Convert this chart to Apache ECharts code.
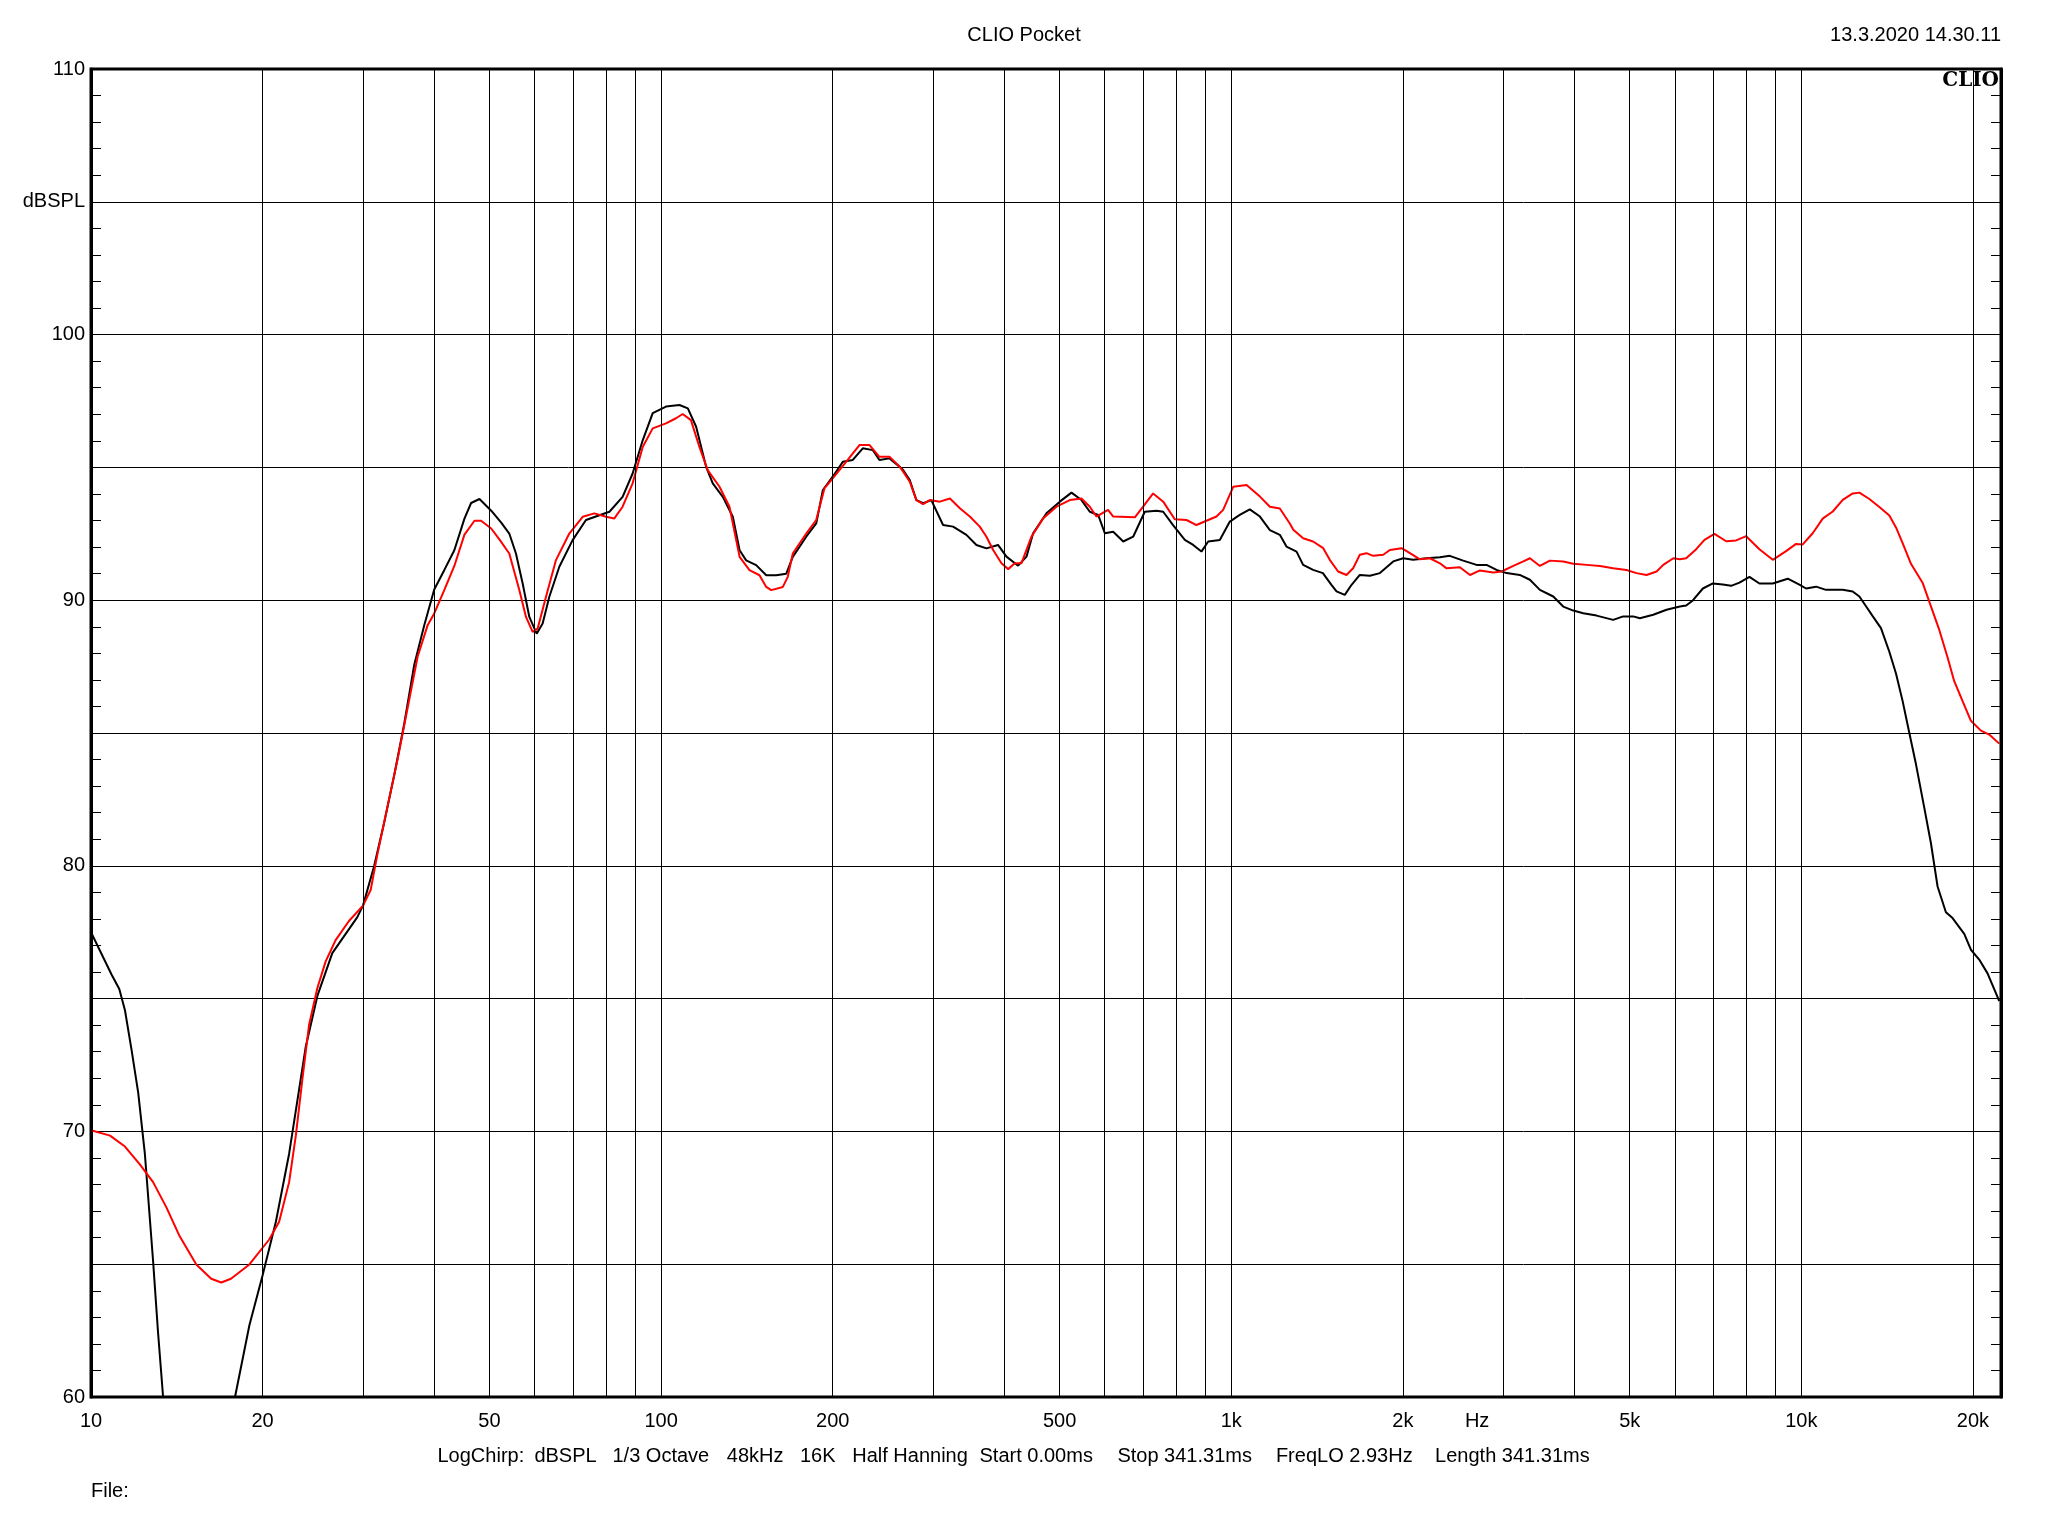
<!DOCTYPE html>
<html>
<head>
<meta charset="utf-8">
<script src="https://cdn.jsdelivr.net/npm/echarts@6/dist/echarts.min.js"></script>
<style>
html,body{margin:0;padding:0;background:#fff;}
#chart{width:2048px;height:1536px;}
</style>
</head>
<body>
<div id="chart"></div>
<script>
// ---------- DATA ----------
const blackFreq = [10,10.87,11.21,11.47,11.78,12.1,12.43,12.85,13.11,13.38,13.55,15.5,17.7,17.89,18.96,20,21.1,22.26,23.81,24.95,26.5,29.3,30,31.38,32.66,34.02,35.43,36.9,38.42,40,41.67,43.38,45.19,46.42,48.02,50.35,52.43,54.16,55.64,57.17,58.73,60.5,61.97,63.67,66.29,69.95,73.82,77.95,81.16,85.6,89.13,92.87,96.67,102,107.7,111.4,115.2,119.9,123.2,128.3,133.6,137.3,141,146.8,152.9,159.2,165.8,170.2,179.7,187.1,192.2,200,208.3,216.9,225.8,235.2,241.5,251.5,262,265.8,273,280.4,288.1,297.8,312.3,325.2,343.2,357.3,372.1,389.9,403.4,422.9,437.4,449.3,474.2,500.4,524.6,546.2,564.9,584.3,600.2,620.9,646.5,673,705.3,739.6,759.8,790.7,829.1,857.6,886.7,911.1,955,994.5,1035,1078,1123,1169,1217,1250,1302,1337,1392,1448,1499,1530,1582,1626,1681,1751,1823,1924,2003,2085,2200,2323,2418,2552,2694,2805,2920,3041,3208,3341,3479,3672,3823,3981,4145,4374,4677,4870,5071,5209,5498,5802,6124,6281,6452,6719,6995,7283,7532,7790,8110,8443,8910,9467,9922,10193,10612,11048,11820,12308,12643,12986,13340,13795,14268,14657,15056,15466,15887,16430,16880,17338,17931,18419,19309,19836,20514,21215,21794,22240];
const blackDb = [77.5,75.9,75.36,74.56,73.07,71.46,69.16,65.12,62.43,60.0,58.6,null,59.3,60,62.7,64.58,66.6,69.16,73.2,75.1,76.71,78.06,78.5,79.99,81.6,83.4,85.34,87.57,89.06,90.4,91.14,91.88,93.07,93.66,93.81,93.37,92.92,92.51,91.76,90.63,89.37,88.74,89.12,90.13,91.26,92.26,93.02,93.2,93.33,93.89,94.77,96.03,97.04,97.29,97.35,97.22,96.53,95.03,94.4,93.89,93.14,91.88,91.5,91.32,90.94,90.94,91.0,91.63,92.39,92.89,94.15,94.65,95.21,95.28,95.72,95.65,95.28,95.34,95.03,94.9,94.52,93.77,93.65,93.77,92.83,92.77,92.46,92.08,91.95,92.08,91.64,91.3,91.64,92.52,93.27,93.71,94.05,93.77,93.33,93.21,92.52,92.58,92.21,92.39,93.33,93.37,93.33,92.83,92.27,92.08,91.83,92.21,92.27,92.96,93.21,93.42,93.15,92.64,92.46,92.02,91.83,91.33,91.14,91.02,90.58,90.33,90.2,90.58,90.95,90.92,91.02,91.46,91.58,91.52,91.58,91.62,91.67,91.49,91.33,91.33,91.14,91.02,90.95,90.77,90.39,90.14,89.76,89.61,89.51,89.42,89.26,89.39,89.39,89.32,89.45,89.64,89.76,89.8,89.99,90.44,90.63,90.59,90.54,90.66,90.88,90.63,90.63,90.81,90.59,90.44,90.51,90.39,90.39,90.33,90.14,89.77,89.4,88.95,88.06,87.24,86.2,85.01,83.83,82.19,80.85,79.22,78.25,78.03,77.44,76.84,76.47,75.95,75.36,74.91];

const redFreq = [10,10.8,11.47,12.18,12.85,13.56,14.3,15.3,16.25,16.92,17.6,18.96,20.54,21.38,22.26,22.87,23.49,24.13,24.95,25.8,26.86,28.34,30,30.95,31.8,33.11,34.49,35.92,37.4,38.95,40,41.67,43.38,45.19,47.06,48.33,50.35,52.0,54.16,56.4,57.94,59.52,60.74,62.82,65.4,69.02,72.85,76.37,80.06,82.79,85.6,89.13,92.87,96.67,102,106.2,109.1,112.8,116.7,120.7,126.6,131.8,137.3,142.9,148.8,152.9,156,163.5,166.8,170.2,179.7,187.1,193.4,200,211.1,222.8,232.1,241.5,251.5,262,265.8,273,280.4,288.1,296,308.2,321.1,334.2,347.9,362.2,372.1,382.3,395.4,406.2,417.3,428.5,446.3,467.7,493.7,521.2,546.2,564.9,580.2,608.1,620.9,677.6,700.6,729.5,759.8,796.2,834.9,869,904.9,942.3,968,1008,1064,1123,1169,1217,1267,1285,1337,1392,1450,1489,1540,1593,1636,1681,1727,1774,1848,1898,1990,2058,2143,2231,2323,2387,2518,2623,2731,2881,2980,3124,3254,3342,3479,3622,3823,3981,4202,4435,4677,4935,5140,5352,5574,5726,5963,6124,6281,6541,6764,7042,7383,7687,8003,8443,8910,9403,9790,10058,10471,10902,11354,11821,12308,12643,13163,13705,14268,14657,15056,15571,16318,16880,17458,18054,18544,19181,19836,20654,21360,22240];
const redDb = [70.04,69.84,69.43,68.76,68.09,67.14,66.06,64.99,64.45,64.31,64.45,64.99,65.93,66.6,68.09,69.84,71.99,74.02,75.4,76.4,77.2,77.92,78.5,79.1,80.44,82.22,84.0,85.94,87.87,89.06,89.5,90.39,91.29,92.47,92.99,92.99,92.7,92.3,91.76,90.38,89.37,88.81,88.93,90.13,91.51,92.51,93.14,93.27,93.14,93.08,93.52,94.4,95.78,96.47,96.66,96.85,97.01,96.78,95.78,94.9,94.27,93.52,91.63,91.13,90.94,90.5,90.38,90.5,90.88,91.76,92.51,93.02,94.21,94.59,95.21,95.84,95.84,95.4,95.4,95.03,94.84,94.46,93.77,93.62,93.77,93.71,93.83,93.46,93.15,92.77,92.39,91.89,91.39,91.17,91.39,91.39,92.39,93.08,93.52,93.77,93.83,93.52,93.15,93.4,93.15,93.12,93.52,94.02,93.71,93.05,93.02,92.83,92.99,93.15,93.4,94.27,94.34,93.9,93.52,93.45,92.89,92.65,92.33,92.21,91.96,91.52,91.08,90.95,91.2,91.71,91.77,91.67,91.71,91.89,91.96,91.77,91.54,91.58,91.39,91.2,91.24,90.95,91.12,91.04,91.08,91.29,91.46,91.58,91.29,91.49,91.46,91.37,91.33,91.29,91.2,91.14,91.02,90.95,91.08,91.33,91.58,91.54,91.58,91.92,92.27,92.5,92.22,92.25,92.41,91.92,91.52,91.85,92.12,92.1,92.52,93.07,93.34,93.78,94.02,94.05,93.81,93.51,93.19,92.74,92.15,91.37,90.66,89.77,88.88,87.84,86.95,86.2,85.46,85.09,84.94,84.6];

const gridFreqs = [20,30,40,50,60,70,80,90,100,200,300,400,500,600,700,800,900,1000,2000,3000,4000,5000,6000,7000,8000,9000,10000,20000];
const xTickFreqs = [10,20,50,100,200,500,1000,2000,5000,10000,20000];
const xTickLabels = ['10','20','50','100','200','500','1k','2k','5k','10k','20k'];
const unitFreq = 2700;
const unitLabel = 'Hz';
const yLabelValues = [60,70,80,90,100,110];
const yUnitValue = 105;
const yUnitLabel = 'dBSPL';

const titleText = 'CLIO Pocket';
const dateText = '13.3.2020 14.30.11';
const logoText = 'CLIO';
const infoTexts = ['LogChirp:','dBSPL','1/3 Octave','48kHz','16K','Half Hanning','Start 0.00ms','Stop 341.31ms','FreqLO 2.93Hz','Length 341.31ms'];
const fileText = 'File:';

// ---------- CHART ----------
const FONT = '"Liberation Sans", Arial, sans-serif';
const chart = echarts.init(document.getElementById('chart'), null, {renderer:'canvas'});

const blackData = blackFreq.map((f,i)=>[f, blackDb[i]===null ? '-' : blackDb[i]]);
const redData = redFreq.map((f,i)=>[f, redDb[i]]);

const labelStyle = {show:true, position:'start', color:'#000', fontSize:20, fontFamily:FONT, distance:14};
const hidden = {color:'rgba(0,0,0,0)', width:1, type:'solid'};
const markData = [];
gridFreqs.forEach(f=>{
  const k = xTickFreqs.indexOf(f);
  markData.push({xAxis:f, label: k>=0 ? Object.assign({}, labelStyle, {formatter: xTickLabels[k]}) : {show:false}});
});
markData.push({xAxis:10, lineStyle:hidden, label:Object.assign({}, labelStyle, {formatter: xTickLabels[0]})});
markData.push({xAxis:unitFreq, lineStyle:hidden, label:Object.assign({}, labelStyle, {formatter: unitLabel})});

const infoX = [437.5,534.4,612.5,726.8,800,852.2,979.5,1117.4,1275.9,1435.1];

const yFmt = v => v===yUnitValue ? yUnitLabel : (yLabelValues.indexOf(v)>=0 ? String(v) : '');

const option = {
  backgroundColor:'#fff',
  animation:false,
  grid:{left:91, top:69, right:47, bottom:139, show:true, borderColor:'#000', borderWidth:3, backgroundColor:'transparent', z:5},
  xAxis:{type:'log', logBase:10, min:10, max:22400,
    axisLine:{show:false}, axisTick:{show:false}, axisLabel:{show:false}, splitLine:{show:false}},
  yAxis:[
    {type:'value', min:60, max:110, interval:5, position:'left',
      axisLine:{show:true, lineStyle:{color:'#000', width:3}},
      axisTick:{show:true, inside:true, length:10, lineStyle:{color:'#000', width:1}},
      minorTick:{show:true, splitNumber:5, length:10, lineStyle:{color:'#000', width:1}},
      axisLabel:{formatter:yFmt, color:'#000', fontSize:20, fontFamily:FONT, margin:6},
      splitLine:{show:true, lineStyle:{color:'#000', width:1}}},
    {type:'value', min:60, max:110, interval:5, position:'right',
      axisLine:{show:true, lineStyle:{color:'#000', width:3}},
      axisTick:{show:true, inside:true, length:10, lineStyle:{color:'#000', width:1}},
      minorTick:{show:true, splitNumber:5, length:10, lineStyle:{color:'#000', width:1}},
      axisLabel:{show:false}, splitLine:{show:false}}
  ],
  series:[
    {type:'line', name:'grid', data:[], z:1, silent:true,
      markLine:{silent:true, symbol:['none','none'], animation:false,
        lineStyle:{color:'#000', width:1, type:'solid'},
        emphasis:{disabled:true},
        data:markData}},
    {type:'line', name:'black', data:blackData, showSymbol:false, symbol:'none', z:3,
      lineStyle:{color:'#000', width:2}, connectNulls:false, clip:true},
    {type:'line', name:'red', data:redData, showSymbol:false, symbol:'none', z:4,
      lineStyle:{color:'#ff0000', width:2}, clip:true}
  ],
  graphic:[
    {type:'text', x:1024, y:35, style:{text:titleText, fill:'#000', font:'20px '+FONT, textAlign:'center', textVerticalAlign:'middle'}},
    {type:'text', x:2001, y:35, style:{text:dateText, fill:'#000', font:'20px '+FONT, textAlign:'right', textVerticalAlign:'middle'}},
    {type:'text', x:1999, y:81, z:10, style:{text:logoText, fill:'#000', font:'bold 20px "DejaVu Serif", serif', textAlign:'right', textVerticalAlign:'middle'}},
    {type:'text', x:91, y:1491, style:{text:fileText, fill:'#000', font:'20px '+FONT, textAlign:'left', textVerticalAlign:'middle'}}
  ].concat(infoTexts.map((t,i)=>({type:'text', x:infoX[i], y:1456, style:{text:t, fill:'#000', font:'20px '+FONT, textAlign:'left', textVerticalAlign:'middle'}})))
};
chart.setOption(option);
</script>
</body>
</html>
